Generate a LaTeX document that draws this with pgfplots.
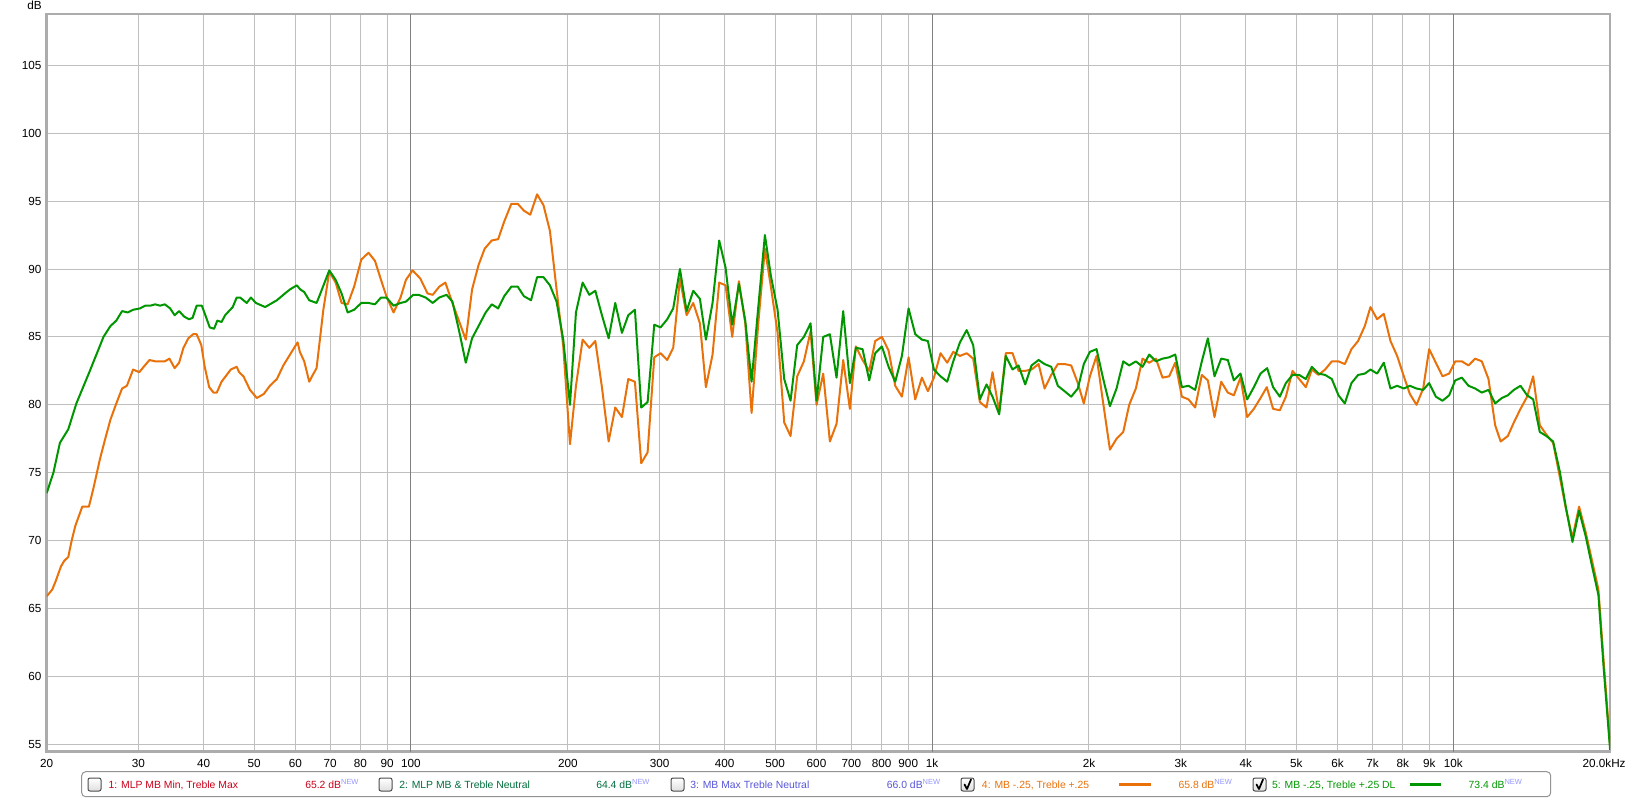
\documentclass[border=0pt]{standalone}
\usepackage{fontspec}
\setmainfont{Liberation Sans}
\usepackage{pgfplots}
\usepackage{pgfplotstable}
\pgfplotsset{compat=1.18}
\definecolor{corange}{RGB}{232,113,10}
\definecolor{cgreen}{RGB}{0,150,0}
\definecolor{cred}{RGB}{200,0,25}
\definecolor{cteal}{RGB}{0,110,60}
\definecolor{cblue}{RGB}{85,85,215}
\definecolor{cnew}{RGB}{150,150,255}

\pgfplotstableread{
f db
20.0 65.9
20.5 66.4
20.8 67.0
21.3 68.1
21.6 68.5
22.0 68.8
22.3 69.9
22.7 71.1
23.1 71.9
23.4 72.5
24.1 72.5
24.6 73.9
25.3 76.0
25.9 77.5
26.5 78.9
27.2 80.1
27.9 81.2
28.5 81.4
29.3 82.6
30.1 82.4
30.7 82.8
31.5 83.3
32.3 83.2
33.0 83.2
33.7 83.2
34.4 83.4
35.2 82.7
35.9 83.1
36.6 84.2
37.4 84.9
38.2 85.2
38.8 85.2
39.6 84.4
40.2 82.8
41.0 81.3
41.8 80.9
42.4 80.9
43.3 81.7
44.3 82.2
45.1 82.6
46.3 82.8
46.8 82.4
47.7 82.1
49.1 81.1
50.6 80.5
52.2 80.8
53.6 81.4
55.3 81.9
56.9 82.9
58.6 83.7
60.6 84.6
61.2 83.9
62.4 83.2
63.8 81.7
64.8 82.2
65.9 82.7
67.9 87.0
69.7 89.8
71.7 89.0
73.6 87.5
75.6 87.4
77.8 88.7
80.3 90.7
82.9 91.2
85.3 90.6
87.6 89.2
89.7 88.0
92.6 86.8
95.5 87.9
97.8 89.2
100.7 89.9
104.2 89.3
107.6 88.2
110.1 88.1
113.3 88.7
116.4 89.0
120.1 87.5
127.4 84.8
131.0 88.5
134.8 90.3
138.5 91.5
142.9 92.1
147.0 92.2
151.0 93.5
155.8 94.8
160.3 94.8
164.7 94.3
169.4 94.0
174.6 95.5
179.6 94.7
184.8 92.8
190.3 88.5
196.0 84.3
201.9 77.1
207.3 81.4
213.5 84.8
219.9 84.2
225.8 84.7
232.5 81.3
239.5 77.3
246.6 79.8
254.0 79.1
261.2 81.9
269.0 81.7
276.6 75.7
284.5 76.5
293.0 83.5
301.3 83.8
310.3 83.3
318.6 84.2
328.2 89.3
338.0 86.6
348.1 87.5
358.5 86.0
368.1 81.3
379.1 83.7
390.4 89.0
401.5 88.8
413.5 85.0
425.9 89.1
438.0 86.0
450.4 79.4
463.9 86.0
477.7 91.5
490.5 88.7
505.2 85.3
520.3 78.7
535.0 77.7
551.0 82.1
567.5 83.2
584.5 85.4
600.2 80.0
618.1 82.3
636.6 77.3
655.6 78.6
675.2 83.3
695.4 79.7
714.1 84.3
735.5 83.3
757.5 82.5
777.8 84.7
801.1 85.0
825.0 84.0
849.7 81.4
875.1 80.6
901.2 83.5
928.2 80.4
956.0 82.0
981.6 81.0
1008 82.0
1038 83.8
1069 83.1
1098 83.9
1131 83.6
1165 83.8
1199 83.4
1235 80.2
1272 79.8
1306 82.4
1345 79.5
1385 83.8
1427 83.8
1465 82.5
1509 82.5
1552 82.6
1601 83.0
1644 81.2
1693 82.2
1743 83.0
1796 83.0
1849 82.9
1904 81.6
1955 80.1
2008 82.1
2068 83.6
2130 80.1
2194 76.7
2259 77.5
2327 78.0
2389 80.0
2460 81.2
2534 83.4
2610 83.1
2688 83.4
2768 82.0
2851 82.1
2928 83.1
3015 80.6
3105 80.4
3198 79.8
3293 82.2
3382 81.8
3483 79.1
3587 81.7
3694 80.9
3794 80.7
3907 82.0
4024 79.1
4144 79.7
4268 80.5
4388 81.3
4512 79.7
4648 79.6
4774 80.6
4916 82.5
5062 81.9
5214 81.3
5354 82.6
5514 82.2
5678 82.6
5848 83.2
6023 83.2
6194 83.0
6379 84.1
6569 84.7
6766 85.8
6937 87.2
7145 86.3
7359 86.7
7579 84.7
7806 83.6
8039 82.1
8256 80.8
8503 80.0
8757 81.2
8991 84.1
9260 83.1
9537 82.1
9822 82.3
10087 83.2
10389 83.2
10699 82.9
11017 83.4
11346 83.2
11686 81.9
12035 78.5
12330 77.3
12728 77.7
13072 78.7
13461 79.7
13862 80.6
14236 82.1
14660 78.5
15097 77.8
15549 77.2
16012 74.7
16443 72.4
16935 70.2
17441 72.5
17962 70.6
18446 68.6
18995 66.4
19450 61.0
20000 54.9
}\orangedata

\pgfplotstableread{
f db
20.0 73.5
20.6 75.0
21.2 77.2
22.0 78.2
22.8 80.1
24.2 82.5
25.7 85.0
26.5 85.8
27.2 86.2
27.9 86.9
28.6 86.8
29.3 87.0
30.2 87.1
30.9 87.3
31.6 87.3
32.3 87.4
33.0 87.3
33.7 87.4
34.5 87.1
35.2 86.6
35.9 86.9
36.7 86.5
37.5 86.3
38.1 86.4
38.8 87.3
39.7 87.3
40.4 86.5
41.1 85.7
41.9 85.6
42.5 86.2
43.3 86.1
44.0 86.6
45.5 87.2
46.3 87.9
47.0 87.9
47.7 87.7
48.4 87.5
49.3 87.9
50.4 87.5
52.5 87.2
53.6 87.4
55.3 87.7
57.3 88.2
58.6 88.5
60.4 88.8
61.3 88.5
62.4 88.3
63.8 87.7
65.9 87.5
66.7 88.0
69.7 89.9
71.7 89.2
73.6 88.2
75.6 86.8
77.8 87.0
80.3 87.5
82.9 87.5
85.3 87.4
87.6 87.9
89.7 87.9
92.6 87.3
95.5 87.5
97.8 87.6
101.0 88.1
103.4 88.1
106.7 87.9
110.1 87.5
113.3 87.9
117.0 88.1
120.1 87.6
123.6 85.5
127.4 83.1
131.0 84.9
134.8 85.8
139.1 86.8
142.9 87.4
147.0 87.1
151.0 88.0
155.8 88.7
160.3 88.7
164.7 88.0
170.0 87.7
174.6 89.4
179.6 89.4
184.8 88.8
190.3 87.6
196.0 84.8
201.9 80.0
207.3 86.8
213.5 89.0
219.9 88.1
225.8 88.4
232.5 86.6
239.5 84.9
246.6 87.5
254.0 85.3
261.2 86.6
269.0 87.0
276.6 79.8
284.5 80.2
293.0 85.9
301.3 85.7
310.3 86.3
318.6 87.1
328.2 90.0
338.0 86.9
348.1 88.4
358.5 87.8
368.1 84.8
379.1 87.5
390.4 92.1
401.5 90.1
413.5 85.9
425.9 88.9
438.0 86.2
450.4 81.7
463.9 87.2
477.7 92.5
490.5 89.5
505.2 87.0
520.3 81.9
535.0 80.3
551.0 84.4
567.5 85.0
584.5 86.0
600.2 80.3
618.1 85.0
636.6 85.2
655.6 82.0
675.2 86.9
695.4 81.6
714.1 84.2
735.5 84.1
757.5 81.8
777.8 83.8
801.1 84.3
825.0 82.8
849.7 81.7
875.1 83.6
901.2 87.1
928.2 85.2
956.0 84.8
981.6 84.7
1008 82.6
1038 82.1
1069 81.7
1098 83.2
1131 84.6
1165 85.5
1199 84.4
1235 80.4
1272 81.5
1306 80.6
1345 79.3
1385 83.6
1427 82.6
1465 82.9
1509 81.5
1552 82.9
1601 83.3
1644 83.0
1693 82.8
1743 81.4
1796 81.0
1849 80.6
1904 81.2
1955 83.0
2008 83.9
2068 84.1
2130 81.9
2194 79.9
2259 81.2
2327 83.2
2389 82.9
2460 83.2
2534 82.8
2610 83.7
2688 83.2
2768 83.4
2851 83.5
2928 83.7
3015 81.3
3105 81.4
3198 81.1
3293 83.2
3382 84.9
3483 82.1
3587 83.4
3694 83.3
3794 81.8
3907 82.3
4024 80.4
4144 81.3
4268 82.3
4395 82.7
4512 81.3
4648 80.6
4774 81.6
4916 82.2
5062 82.2
5214 81.9
5354 82.8
5514 82.3
5678 82.2
5848 81.9
6023 80.7
6194 80.1
6379 81.6
6569 82.2
6766 82.3
6937 82.6
7145 82.3
7359 83.1
7579 81.2
7806 81.4
8039 81.2
8256 81.4
8503 81.2
8757 81.1
8991 81.6
9260 80.6
9537 80.3
9822 80.7
10087 81.8
10389 82.0
10699 81.4
11017 81.2
11346 80.9
11686 81.1
12035 80.1
12395 80.5
12728 80.7
13072 81.1
13461 81.4
13862 80.7
14236 80.4
14660 78.0
15097 77.7
15549 77.3
16012 75.1
16443 72.5
16935 69.9
17441 72.2
17962 70.3
18446 68.2
18995 66.0
19450 60.5
20000 54.6
}\greendata

\begin{document}
\begin{tikzpicture}
\begin{scope}[x=0.75pt,y=-0.75pt,shift={(-35.025pt,563.775pt)}]
  \useasboundingbox (0,0) rectangle (1633,799);
\end{scope}
\begin{axis}[
  at={(0,0)}, anchor=south west,
  width=1172.475pt, height=553.275pt, scale only axis,
  xmode=log, xmin=20, xmax=20000, ymin=54.455, ymax=108.78,
  xtick={20,30,40,50,60,70,80,90,100,200,300,400,500,600,700,800,900,1000,2000,3000,4000,5000,6000,7000,8000,9000,10000,20000},
  xticklabels={20,30,40,50,60,70,80,90,100,200,300,400,500,600,700,800,900,1k,2k,3k,4k,5k,6k,7k,8k,9k,10k,{\kern-9pt 20.0kHz}},
  ytick={55,60,65,70,75,80,85,90,95,100,105},
  xminorgrids=false, yminorgrids=false,
  grid=major,
  major grid style={draw=gray!50, line width=0.75pt},
  tick style={draw=none},
  minor tick length=0pt, major tick length=0pt,
  axis line style={draw=gray!65, line width=2pt},
  tick label style={font=\fontsize{8.8}{10}\selectfont, text=black},
  xticklabel style={anchor=base, yshift=-11.8pt, inner sep=0pt},
  yticklabel style={anchor=east, inner sep=0pt, xshift=-3.75pt},
  /pgf/number format/assume math mode=true,
  extra x ticks={100,1000,10000},
  extra x tick labels={},
  extra x tick style={grid=major, major grid style={draw=gray, line width=0.75pt}},
]
\addplot[corange, line width=1.5pt, line join=round] table[x=f,y=db] {\orangedata};
\addplot[cgreen, line width=1.5pt, line join=round] table[x=f,y=db] {\greendata};
\end{axis}
\begin{scope}[x=0.75pt,y=-0.75pt,shift={(-35.025pt,563.775pt)},
  every node/.style={inner sep=0pt, font=\fontsize{7.8}{9}\selectfont}]
  \node[anchor=center, font=\fontsize{8.8}{10}\selectfont] at (34.5,5.5) {dB};
  \draw[draw=gray!85, line width=0.75pt, rounded corners=3pt] (81.7,771.7) rectangle (1550.7,796.7);
  % checkboxes
  \foreach \cx in {88,379,671,961,1253}{
    \draw[draw=gray!60!black, top color=white, bottom color=gray!25, line width=0.75pt, rounded corners=1.5pt] (\cx,778) rectangle ++(13,13);
  }
  \foreach \cx in {961,1253}{
    \draw[black, line width=1.3pt, line join=round, line cap=round] (\cx+3.5,784.5) -- (\cx+6,789) -- (\cx+10,779.5);
  }
  % labels
  \node[anchor=base west, text=cred] at (108.3,788.5) {1: MLP MB Min, Treble Max};
  \node[anchor=base west, text=cred] at (305,788.5) {65.2 dB\raisebox{3pt}{\color{cnew}\fontsize{5.6}{6}\selectfont NEW}};
  \node[anchor=base west, text=cteal] at (399,788.5) {2: MLP MB \& Treble Neutral};
  \node[anchor=base west, text=cteal] at (596,788.5) {64.4 dB\raisebox{3pt}{\color{cnew}\fontsize{5.6}{6}\selectfont NEW}};
  \node[anchor=base west, text=cblue] at (690,788.5) {3: MB Max Treble Neutral};
  \node[anchor=base west, text=cblue] at (886.6,788.5) {66.0 dB\raisebox{3pt}{\color{cnew}\fontsize{5.6}{6}\selectfont NEW}};
  \node[anchor=base west, text=corange] at (981.7,788.5) {4: MB -.25, Treble +.25};
  \draw[corange, line width=2.2pt] (1118.8,784.3) -- (1150.7,784.3);
  \node[anchor=base west, text=corange] at (1178.3,788.5) {65.8 dB\raisebox{3pt}{\color{cnew}\fontsize{5.6}{6}\selectfont NEW}};
  \node[anchor=base west, text=cgreen] at (1271.8,788.5) {5: MB -.25, Treble +.25 DL};
  \draw[cgreen, line width=2.2pt] (1410,784.3) -- (1441,784.3);
  \node[anchor=base west, text=cgreen] at (1468.4,788.5) {73.4 dB\raisebox{3pt}{\color{cnew}\fontsize{5.6}{6}\selectfont NEW}};
\end{scope}
\end{tikzpicture}
\end{document}
